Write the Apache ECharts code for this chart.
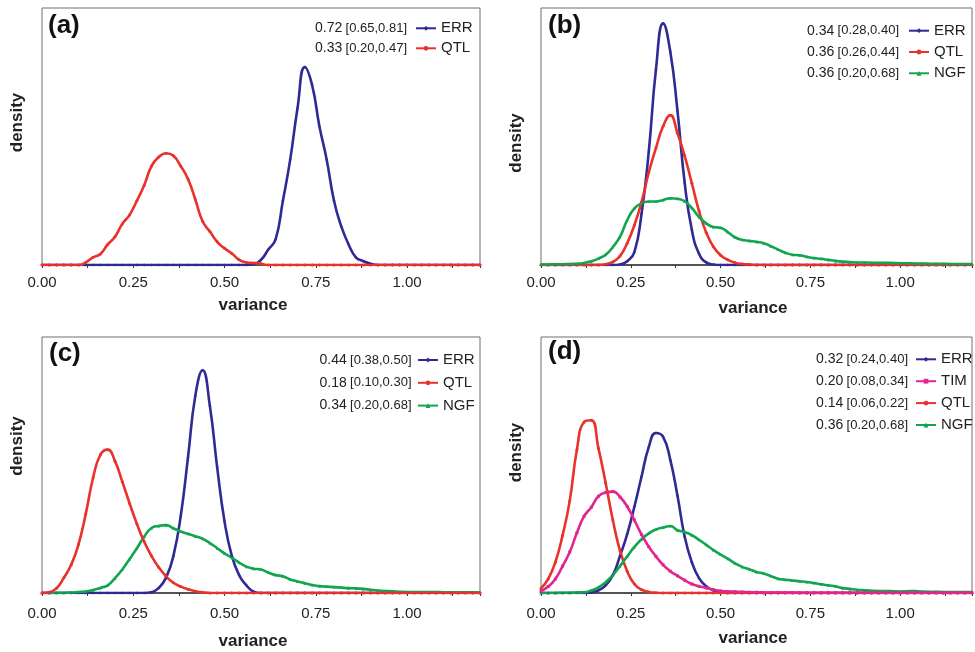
<!DOCTYPE html>
<html><head><meta charset="utf-8">
<script src="https://cdn.jsdelivr.net/npm/echarts@6/dist/echarts.min.js"></script>
<style>html,body{margin:0;padding:0;background:#fff}#c{width:975px;height:652px}</style>
</head><body><div id="c"></div>
<script>
// sample positions (variance)
const X = [0.00,0.02,0.04,0.06,0.08,0.10,0.12,0.14,0.16,0.18,
0.20,0.22,0.24,0.26,0.28,0.30,0.32,0.34,0.36,0.38,
0.40,0.42,0.44,0.46,0.48,0.50,0.52,0.54,0.56,0.58,
0.60,0.62,0.64,0.66,0.68,0.70,0.72,0.74,0.76,0.78,
0.80,0.82,0.84,0.86,0.88,0.90,0.92,0.94,0.96,0.98,
1.00,1.02,1.04,1.06,1.08,1.10,1.12,1.14,1.16,1.18,1.20];
const xTickLabels = ['0.00','0.25','0.50','0.75','1.00'];

// relative density (% of panel height)
const a_ERR = [0,0,0,0,0,0,0,0,0,0, 0,0,0,0,0,0,0,0,0,0, 0,0,0,0,0,0,0,0,0,0.3,
2,6,10,25,41,61,77,70,54,41, 25,15,8,3,1.5,0.5,0,0,0,0, 0,0,0,0,0,0,0,0,0,0,0];
const a_QTL = [0,0,0,0,0,0,1,3,4.3,8, 11,16,19.5,25,31,38.5,42,43.5,42.5,38.5,
33.5,25.5,17,13,9,6.5,4.5,2,1,0.8, 0.5,0,0,0,0,0,0,0,0,0, 0,0,0,0,0,0,0,0,0,0, 0,0,0,0,0,0,0,0,0,0,0];

const b_ERR = [0,0,0,0,0,0,0,0,0,0, 0,0.2,1.5,5,20,44,76,94,83,60, 32,13.6,4.4,1,0.2,0,0,0,0,0,
0,0,0,0,0,0,0,0,0,0, 0,0,0,0,0,0,0,0,0,0, 0,0,0,0,0,0,0,0,0,0,0];
const b_QTL = [0,0,0,0,0,0,0,0,0,0.3, 1.2,3.5,8.5,15.5,24.5,36,45.5,54,58.3,51.3,
42.5,31.8,21,12.6,7.1,3.8,2,0.9,0.4,0.2, 0,0,0,0,0,0,0,0,0,0, 0,0,0,0,0,0,0,0,0,0, 0,0,0,0,0,0,0,0,0,0,0];
const b_NGF = [0.2,0.2,0.3,0.3,0.4,0.5,0.8,1.5,2.5,4, 7,11,17.5,22,24,24.7,24.7,25.3,26,25.8,
24.8,22.2,18.7,16.2,14.8,14.5,12.8,10.8,9.8,9.4, 9,8.5,7.3,6,4.8,4,3.8,3.2,2.7,2.4,
2.0,1.6,1.3,1.1,1.0,1.0,0.9,0.9,0.9,0.8, 0.7,0.7,0.6,0.6,0.5,0.5,0.5,0.4,0.4,0.4,0.4];

const c_ERR = [0,0,0,0,0,0,0,0,0,0, 0,0,0,0,0,0.3,2,6,14.5,30, 53,77,87,73,49,28,14.5,7,3,0.5,
0,0,0,0,0,0,0,0,0,0, 0,0,0,0,0,0,0,0,0,0, 0,0,0,0,0,0,0,0,0,0,0];
const c_QTL = [0,0.3,1.9,6,11,19,31,45,54,56, 51.5,43.5,35,27,20,14.5,10,6.5,4,2.5,
1.5,0.7,0.3,0,0,0,0,0,0,0, 0,0,0,0,0,0,0,0,0,0, 0,0,0,0,0,0,0,0,0,0, 0,0,0,0,0,0,0,0,0,0,0];
const c_NGF = [0,0,0.1,0.1,0.2,0.4,0.6,1.2,2,3, 5.8,9.2,13.3,17.5,22,25.4,26.2,26.5,25.3,24,
23.1,22.2,21.2,19.5,17.5,15.5,13.8,11.9,10.3,9.5, 9.2,8,7,6.5,5.3,4.5,3.8,3.1,2.7,2.5,
2.3,2.1,1.9,1.8,1.6,1.3,1.0,0.8,0.7,0.5, 0.4,0.4,0.4,0.4,0.4,0.3,0.3,0.3,0.3,0.3,0.3];

const d_ERR = [0,0,0,0,0,0,0,0.3,1,3, 7,14.5,23,33.7,45.5,57,62.5,61,52,38, 22,12,5.8,2.6,1,0.3,0,0,0,0,
0,0,0,0,0,0,0,0,0,0, 0,0,0,0,0,0,0,0,0,0, 0,0,0,0,0,0,0,0,0,0,0];
const d_TIM = [0.7,2.5,5.5,10.5,16,23.5,30,33.5,37.8,39.3, 39.6,37.5,33.8,28.5,22.8,18.1,14.3,11,8.5,6.7,
5,3.5,2.6,2,1.3,0.8,0.6,0.5,0.4,0.3, 0.3,0.2,0.2,0.2,0.2,0.2,0.1,0.1,0.1,0.1,
0.1,0.1,0.1,0.1,0.1,0.1,0.1,0.1,0.1,0.1, 0.1,0.1,0.1,0.1,0.1,0.1,0.1,0.1,0.1,0.1,0.1];
const d_QTL = [1.8,5.5,12,22.5,36,56,66.8,67.5,56.5,43, 28.5,16.5,8.5,3.5,1.3,0.4,0.1,0,0,0,
0,0,0,0,0,0,0,0,0,0, 0,0,0,0,0,0,0,0,0,0, 0,0,0,0,0,0,0,0,0,0, 0,0,0,0,0,0,0,0,0,0,0];
const d_NGF = [0,0,0,0.1,0.1,0.2,0.3,1,2.2,4.2, 7,10.5,14.3,18,21,23.3,24.8,25.6,26.2,24.5,
23.8,22.6,20.8,18.8,16.8,15,13.4,11.6,10.2,9.3, 8.2,7.6,6.6,5.6,5.2,4.9,4.6,4.3,3.9,3.4,
3.0,2.6,1.9,1.6,1.3,1.1,0.9,0.8,0.8,0.7, 0.6,0.7,0.8,0.6,0.5,0.5,0.4,0.4,0.4,0.4,0.4];

// legend names and summary statistics (mode [95% interval])
const legA = ['ERR','QTL'];
const statsA = [['0.72','[0.65,0.81]'],['0.33','[0.20,0.47]']];
const legB = ['ERR','QTL','NGF'];
const statsB = [['0.34','[0.28,0.40]'],['0.36','[0.26,0.44]'],['0.36','[0.20,0.68]']];
const legC = ['ERR','QTL','NGF'];
const statsC = [['0.44','[0.38,0.50]'],['0.18','[0.10,0.30]'],['0.34','[0.20,0.68]']];
const legD = ['ERR','TIM','QTL','NGF'];
const statsD = [['0.32','[0.24,0.40]'],['0.20','[0.08,0.34]'],['0.14','[0.06,0.22]'],['0.36','[0.20,0.68]']];

const COLORS = {ERR:'#2f2a94', QTL:'#e8322b', NGF:'#10a54f', TIM:'#e2268f'};
const SYMBOLS = {ERR:'diamond', QTL:'circle', NGF:'triangle', TIM:'rect'};
const FONT = '"Liberation Sans", Arial, Helvetica, sans-serif';

const panels = [
  {label:'(a)', grid:{left:42,top:8,width:438,height:257}, series:[['ERR',a_ERR],['QTL',a_QTL]], leg:legA, stats:statsA,
   labelPos:[48,27], statsRight:407, legendLeft:415, row0:28.3, rowStep:20, xNameGap:31.5, xNamePad:[0,16,0,0], yNamePad:[0,0,0,28], labelMargin:10},
  {label:'(b)', grid:{left:541,top:8,width:439,height:257}, series:[['ERR',b_ERR],['QTL',b_QTL],['NGF',b_NGF]], leg:legB, stats:statsB,
   labelPos:[548,27], statsRight:899, legendLeft:908, row0:30.7, rowStep:21.3, xNameGap:34.5, xNamePad:[0,7,0,0], yNamePad:[0,13,0,0], labelMargin:10},
  {label:'(c)', grid:{left:42,top:337,width:438,height:256}, series:[['ERR',c_ERR],['NGF',c_NGF],['QTL',c_QTL]], leg:legC, stats:statsC,
   labelPos:[49,355], statsRight:411.5, legendLeft:417, row0:360, rowStep:22.8, xNameGap:40, xNamePad:[0,16,0,0], yNamePad:[0,0,0,38], labelMargin:13},
  {label:'(d)', grid:{left:541,top:337,width:439,height:256}, series:[['ERR',d_ERR],['QTL',d_QTL],['NGF',d_NGF],['TIM',d_TIM]], leg:legD, stats:statsD,
   labelPos:[548,353], statsRight:908, legendLeft:915, row0:359.3, rowStep:21.9, xNameGap:36.5, xNamePad:[0,7,0,0], yNamePad:[0,0,0,25], labelMargin:13}
];

const grids = [], xAxes = [], yAxes = [], series = [], legends = [], graphics = [];
panels.forEach((p, k) => {
  grids.push(Object.assign({show:true, borderColor:'#6e6e6e', borderWidth:1, containLabel:false}, p.grid));
  xAxes.push({
    type:'value', gridIndex:k, min:0, max:1.2, interval:0.125,
    name:'variance', nameLocation:'middle', nameGap:p.xNameGap,
    nameTextStyle:{fontFamily:FONT, fontSize:17, fontWeight:'bold', color:'#222', padding:p.xNamePad},
    axisLine:{show:true, onZero:false, lineStyle:{color:'#333', width:1.5}},
    axisTick:{show:true, length:3, lineStyle:{color:'#333', width:1}},
    axisLabel:{margin:p.labelMargin, fontFamily:FONT, fontSize:15, color:'#222',
      formatter:(v)=>{const s=v.toFixed(2); return xTickLabels.indexOf(s)>=0 ? s : '';}},
    splitLine:{show:false}
  });
  yAxes.push({
    type:'value', gridIndex:k, min:0, max:100,
    name:'density', nameLocation:'middle', nameGap:16,
    nameTextStyle:{fontFamily:FONT, fontSize:17, fontWeight:'bold', color:'#222', padding:p.yNamePad},
    axisLine:{show:false}, axisTick:{show:false}, axisLabel:{show:false}, splitLine:{show:false}
  });
  p.series.forEach(([name, ys]) => {
    series.push({
      type:'line', name:name, xAxisIndex:k, yAxisIndex:k,
      data:X.map((x,i)=>[x, ys[i]]),
      smooth:0.5,
      symbol:SYMBOLS[name], symbolSize:3, showSymbol:true,
      lineStyle:{color:COLORS[name], width:2.6},
      itemStyle:{color:COLORS[name]},
      clip:true, animation:false
    });
  });
  legends.push({
    data:p.leg, orient:'vertical', left:p.legendLeft, top:p.row0 - 7.5,
    padding:0, itemWidth:20, itemHeight:6, itemGap:p.rowStep - 15,
    textStyle:{fontFamily:FONT, fontSize:15, color:'#222', lineHeight:15},
    selectedMode:false
  });
  graphics.push({type:'text', left:p.labelPos[0], top:p.labelPos[1]-14,
    style:{text:p.label, font:'bold 26px '+FONT, fill:'#111'}});
  p.stats.forEach((s, j) => {
    graphics.push({type:'text', x:p.statsRight, y:p.row0 + j*p.rowStep,
      style:{text:'{n|'+s[0]+'} {b|'+s[1]+'}', align:'right', verticalAlign:'middle',
        rich:{n:{fontSize:14, fontFamily:FONT, fill:'#222'}, b:{fontSize:13, fontFamily:FONT, fill:'#222'}}}});
  });
});

const chart = echarts.init(document.getElementById('c'), null, {renderer:'canvas'});
chart.setOption({
  animation:false,
  backgroundColor:'#fff',
  textStyle:{fontFamily:FONT},
  grid:grids, xAxis:xAxes, yAxis:yAxes, series:series, legend:legends, graphic:graphics
});
</script></body></html>
